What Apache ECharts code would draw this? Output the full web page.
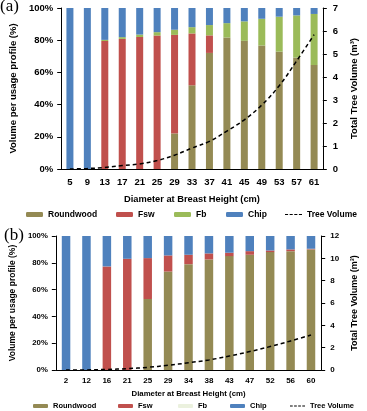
<!DOCTYPE html>
<html><head><meta charset="utf-8">
<script src="https://cdn.jsdelivr.net/npm/echarts@6/dist/echarts.min.js"></script>
<style>html,body{margin:0;padding:0;background:#fff}#c{width:367px;height:411px}</style>
</head><body><div id="c"></div>
<script>
// ---- Panel (a) ----
var catsA = ['5','9','13','17','21','25','29','33','37','41','45','49','53','57','61'];
var roundA = [0,0,0,0,0,0,22.1,52,72.1,81.7,79.6,76.7,72.9,69.2,64.6];
var fswA   = [0,0,79.5,80.8,82,82.9,61.2,32.2,10.9,0,0,0,0,0,0];
var fbA    = [0,0,0.7,1.1,1.5,2.1,3.2,3.9,6.4,8.9,12.1,16.6,21.7,26.2,31.7];
var chipA  = [100,100,19.8,18.1,16.5,15,13.5,11.9,10.6,9.4,8.3,6.7,5.4,4.6,3.7];
var volA   = [0,0.02,0.07,0.15,0.22,0.37,0.6,0.91,1.2,1.65,2.14,2.78,3.62,4.7,5.84];
// ---- Panel (b) ----
var catsB = ['2','12','16','21','25','29','34','38','43','47','52','56','60'];
var roundB = [0,0,0,0,53,73.5,79,82.5,85,86,88,88.7,90];
var fswB   = [0,0,77.3,83,30.5,12,7,4.5,2.5,2.7,1.2,1.3,0.5];
var fbB    = [0,0,0,0,0,0,0,0,0,0,0,0,0];
var chipB  = [100,100,22.7,17,16.5,14.5,14,13,12.5,11.3,10.8,10,9.5];
var volB   = [0,0.01,0.05,0.12,0.24,0.42,0.65,0.9,1.25,1.65,2.1,2.6,3.13];
var legendNames = ['Roundwood','Fsw','Fb','Chip','Tree Volume'];

var C_ROUND = '#948A54', C_FSW = '#C0504D', C_FB = '#9BBB59', C_CHIP = '#4F81BD';
var FONT = '"Liberation Sans", Arial, sans-serif';

function lbl(size){ return {color:'#000', fontWeight:'bold', fontSize:size, fontFamily:FONT}; }

var chart = echarts.init(document.getElementById('c'));
function bars(name, data, color, xi, yi, bw, stack){
  return {name:name, type:'bar', stack:stack, xAxisIndex:xi, yAxisIndex:yi, data:data,
    barWidth:bw, itemStyle:{color:color}, emphasis:{disabled:true}};
}
function vol(data, xi, yi){
  return {name:'Tree Volume', type:'line', xAxisIndex:xi, yAxisIndex:yi, data:data, smooth:0.4,
    symbol:'none', lineStyle:{color:'#000', width:1.5, type:[4,3]}, itemStyle:{color:'#000'}, z:5};
}
var yLeftBase = {type:'value', min:0, max:100, interval:20,
  axisLine:{show:true, lineStyle:{color:'#000', width:1}}, axisTick:{show:true, length:4, lineStyle:{color:'#000'}},
  splitLine:{show:false}, nameLocation:'middle', nameRotate:90};

var legendsA = [26,116,174,226,285];
var legendsB = [33,118,178,230,290];
var legends = [];
legendNames.forEach(function(n,i){
  var d = n === 'Tree Volume' ? {name:n, icon:'path://M0,0h3v1h-3z M4.5,0h3v1h-3z M9,0h3v1h-3z M13.5,0h3v1h-3z', itemStyle:{color:'#000'}} : n;
  legends.push({top:210, left:legendsA[i], padding:0, itemWidth:17, itemHeight:n==='Tree Volume'?1.5:5, textStyle:lbl(8.5), selectedMode:false, data:[d]});
});
legendNames.forEach(function(n,i){
  var d = n === 'Fb' ? {name:'Fb', itemStyle:{color:'#EBF1DE'}} :
          n === 'Tree Volume' ? {name:n, icon:'path://M0,0h3v1h-3z M4.5,0h3v1h-3z M9,0h3v1h-3z M13.5,0h3v1h-3z', itemStyle:{color:'#000'}} : n;
  legends.push({top:402, left:legendsB[i], padding:0, itemWidth:15, itemHeight:n==='Tree Volume'?1.3:4, textStyle:lbl(7.5), selectedMode:false, data:[d]});
});

var opt = {
  animation:false,
  textStyle:{fontFamily:FONT},
  grid:[
    {left:54, top:8, width:282, height:161},
    {left:54, top:236, width:282, height:134}
  ],
  legend:legends,
  xAxis:[
    {type:'category', gridIndex:0, data:catsA, axisLine:{lineStyle:{color:'#000'}},
     axisTick:{length:4, lineStyle:{color:'#000'}}, axisLabel:Object.assign(lbl(9.5),{margin:8}),
     name:'Diameter at Breast Height (cm)', nameLocation:'middle', nameGap:26, nameTextStyle:lbl(9.3)},
    {type:'category', gridIndex:1, data:catsB, axisLine:{lineStyle:{color:'#000'}},
     axisTick:{length:4, lineStyle:{color:'#000'}}, axisLabel:Object.assign(lbl(8),{margin:7}),
     name:'Diameter at Breast Height (cm)', nameLocation:'middle', nameGap:20, nameTextStyle:lbl(7.8)}
  ],
  yAxis:[
    Object.assign({}, yLeftBase, {gridIndex:0, axisLabel:Object.assign(lbl(9.5),{formatter:'{value}%', margin:8}),
      name:'Volume per usage profile (%)', nameGap:41, nameTextStyle:lbl(9.5)}),
    {type:'value', gridIndex:0, position:'right', min:0, max:7, interval:1,
      axisLine:{show:true, lineStyle:{color:'#000'}}, axisTick:{show:true, length:4, lineStyle:{color:'#000'}},
      splitLine:{show:false}, axisLabel:Object.assign(lbl(9.5),{margin:10}),
      name:'Total Tree Volume (m³)', nameLocation:'middle', nameRotate:90, nameGap:25, nameTextStyle:lbl(9.5)},
    Object.assign({}, yLeftBase, {gridIndex:1, axisLabel:Object.assign(lbl(7.8),{formatter:'{value}%', margin:8}),
      name:'Volume per usage profile (%)', nameGap:32, nameTextStyle:lbl(8.5)}),
    {type:'value', gridIndex:1, position:'right', min:0, max:12, interval:2,
      axisLine:{show:true, lineStyle:{color:'#000'}}, axisTick:{show:true, length:4, lineStyle:{color:'#000'}},
      splitLine:{show:false}, axisLabel:Object.assign(lbl(8),{margin:9}),
      name:'Total Tree Volume (m³)', nameLocation:'middle', nameRotate:90, nameGap:26, nameTextStyle:lbl(9)}
  ],
  graphic:[
    {type:'text', left:0, top:-2, style:{text:'(a)', font:'17px "Liberation Serif", serif', fill:'#000'}},
    {type:'text', left:4, top:227, style:{text:'(b)', font:'17px "Liberation Serif", serif', fill:'#000'}}
  ],
  series:[
    bars('Roundwood', roundA, C_ROUND, 0, 0, 7, 'a'),
    bars('Fsw', fswA, C_FSW, 0, 0, 7, 'a'),
    bars('Fb', fbA, C_FB, 0, 0, 7, 'a'),
    bars('Chip', chipA, C_CHIP, 0, 0, 7, 'a'),
    vol(volA, 0, 1),
    bars('Roundwood', roundB, C_ROUND, 1, 2, 8.5, 'b'),
    bars('Fsw', fswB, C_FSW, 1, 2, 8.5, 'b'),
    bars('Fb', fbB, C_FB, 1, 2, 8.5, 'b'),
    bars('Chip', chipB, C_CHIP, 1, 2, 8.5, 'b'),
    vol(volB, 1, 3)
  ]
};
chart.setOption(opt);
</script></body></html>
